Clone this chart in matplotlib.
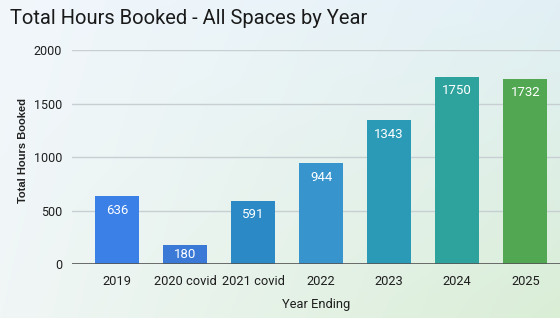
import numpy as np
import matplotlib
matplotlib.use("Agg")
import matplotlib.pyplot as plt

categories = ["2019", "2020 covid", "2021 covid", "2022", "2023", "2024", "2025"]
values = [636, 180, 591, 944, 1343, 1750, 1732]
bar_colors = ["#3b80e6", "#3a79d6", "#2b8ac6", "#3894cc", "#2b9ab6", "#2ea39e", "#52a852"]
yticks = [0, 500, 1000, 1500, 2000]

plt.rcParams['font.family'] = ['Roboto', 'DejaVu Sans']

W, H = 560, 318
fig = plt.figure(figsize=(W / 100, H / 100), dpi=100)

# background gradient
bg = fig.add_axes([0, 0, 1, 1], zorder=-10)
tl = np.array([0xf2, 0xf7, 0xfc]) / 255
tr = np.array([0xe2, 0xf0, 0xf6]) / 255
bl = np.array([0xf0, 0xf6, 0xf6]) / 255
br = np.array([0xda, 0xee, 0xd6]) / 255
xs = np.linspace(0, 1, 200)[None, :, None]
ys = np.linspace(0, 1, 120)[:, None, None]
img = (tl * (1 - xs) * (1 - ys) + tr * xs * (1 - ys) + bl * (1 - xs) * ys + br * xs * ys)
bg.imshow(img, aspect='auto', extent=[0, 1, 0, 1], origin='upper')
bg.axis('off')

left = 72 / W
bottom = 1 - 264.3 / H
top = 1 - 50 / H
ax = fig.add_axes([left, bottom, 1 - left, top - bottom])
ax.patch.set_alpha(0)

x = np.arange(len(categories))
bars = ax.bar(x, values, width=0.65, color=bar_colors, zorder=3)
ax.set_xlim(-0.66, len(categories) - 1 + 0.51)
ax.set_ylim(0, 2000)
ax.set_yticks(yticks)
ax.set_yticklabels([str(v) for v in yticks])
ax.set_xticks(x)
ax.set_xticklabels(categories)
ax.grid(axis='y', color='#c8cfd2', linewidth=1, zorder=0)
ax.axhline(0, color='#555555', linewidth=1.2, zorder=4)
for s in ax.spines.values():
    s.set_visible(False)
ax.tick_params(axis='both', length=0, colors='#1e1e1e')
ax.tick_params(axis='x', pad=8, labelsize=9.3)
ax.tick_params(axis='y', pad=7, labelsize=9)

ax.set_xlabel("Year Ending", fontsize=9.3, color='#1e1e1e', labelpad=7)
ax.set_ylabel("Total Hours Booked", fontsize=8, color='#222222',
              family=['Liberation Sans', 'DejaVu Sans'], fontweight='semibold')
ax.yaxis.set_label_coords(-(72 - 28) / (W - 72), 0.53)

# value labels
px_per_unit = (264.3 - 50) / 2000
for xi, v in zip(x, values):
    h_px = v * px_per_unit
    off = min(14, h_px / 2)
    ax.annotate(str(v), (xi, v), xytext=(0, -off * 72 / 100), textcoords='offset points',
                ha='center', va='center', color='white', fontsize=9.5, zorder=5)

fig.text(10 / W, 1 - 19 / H, "Total Hours Booked - All Spaces by Year",
         fontsize=14.5, color='#1a1a1a', ha='left', va='center')

fig.savefig("out.png", dpi=100)
